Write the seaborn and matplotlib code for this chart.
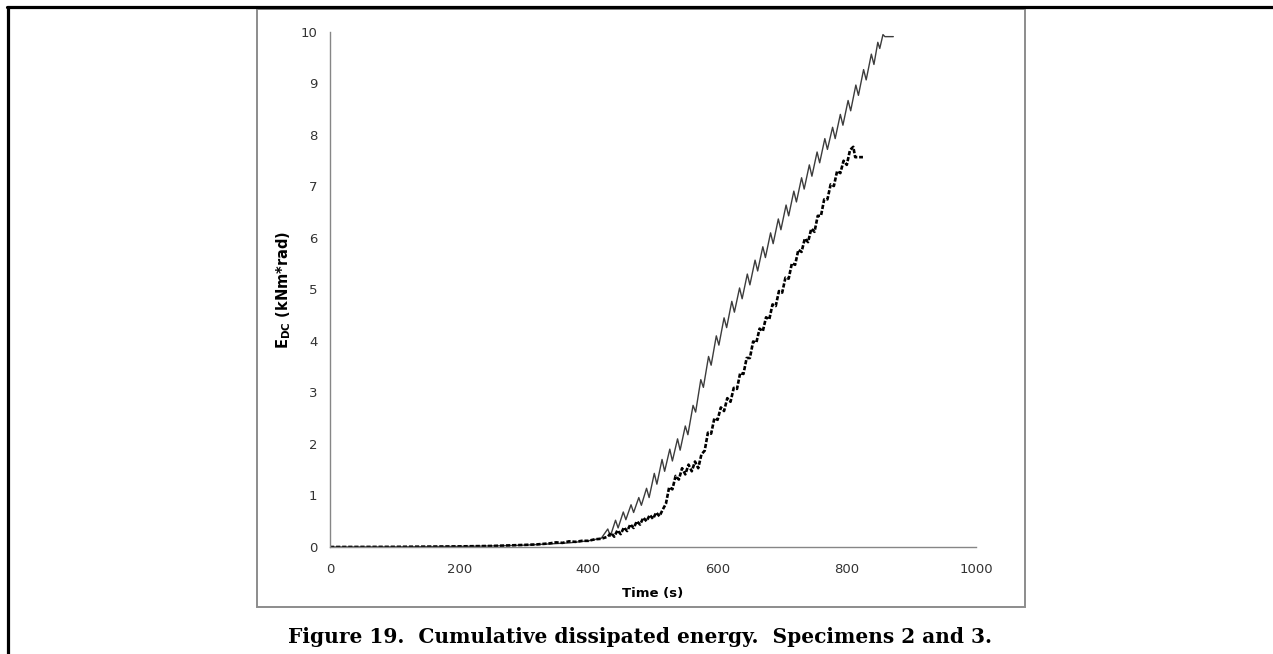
import numpy as np
import pandas as pd
import matplotlib
matplotlib.use("Agg")
import matplotlib.pyplot as plt
from matplotlib.patches import Rectangle
from matplotlib.lines import Line2D
import seaborn as sns

# Specimen 2: cumulative dissipated energy (solid line)
time_s2 = [0, 100, 200, 250, 300, 340, 370, 400, 420,
           430, 434, 442, 446, 454, 458, 466, 470, 478, 482, 490, 494,
           502, 506, 514, 518, 526, 530, 538, 542, 550, 554, 562, 566,
           574, 578, 586, 590, 598, 602, 610, 614, 622, 626, 634, 638,
           646, 650, 658, 662, 670, 674, 682, 686, 694, 698, 706, 710,
           718, 722, 730, 734, 742, 746, 754, 758, 766, 770, 778, 782,
           790, 794, 802, 806, 814, 818, 826, 830, 838, 842, 848, 851,
           856, 859, 872]
energy_s2 = [0.0, 0.003, 0.01, 0.02, 0.035, 0.06, 0.08, 0.12, 0.17,
             0.35, 0.21, 0.52, 0.37, 0.68, 0.53, 0.82, 0.67, 0.96, 0.81, 1.14, 0.96,
             1.43, 1.22, 1.70, 1.47, 1.90, 1.67, 2.10, 1.88, 2.35, 2.18, 2.75, 2.62,
             3.25, 3.10, 3.70, 3.53, 4.10, 3.92, 4.45, 4.26, 4.77, 4.56, 5.03, 4.82,
             5.30, 5.09, 5.57, 5.36, 5.83, 5.62, 6.10, 5.89, 6.37, 6.16, 6.64, 6.43,
             6.91, 6.70, 7.17, 6.95, 7.42, 7.20, 7.67, 7.46, 7.93, 7.72, 8.15, 7.93,
             8.40, 8.19, 8.67, 8.47, 8.97, 8.77, 9.27, 9.07, 9.57, 9.37, 9.80, 9.68,
             9.95, 9.91, 9.91]

# Specimen 3: cumulative dissipated energy (dashed line)
time_s3 = [0, 100, 200, 250, 300, 320, 340, 350, 360, 370, 380, 390, 400,
           410, 420, 430, 435, 440, 445, 450, 455, 460, 465, 470, 475, 480,
           485, 490, 495, 500, 505, 510, 515, 520, 525, 530, 535, 540, 545,
           550, 555, 560, 565, 570, 575, 580, 585, 590, 595, 600, 605, 610,
           615, 620, 625, 630, 635, 640, 645, 650, 655, 660, 665, 670, 675,
           680, 685, 690, 695, 700, 705, 710, 715, 720, 725, 730, 735, 740,
           745, 750, 755, 760, 765, 770, 775, 780, 785, 790, 795, 800, 805,
           810, 813, 825]
energy_s3 = [0.0, 0.003, 0.012, 0.02, 0.04, 0.05, 0.07, 0.09, 0.08, 0.11, 0.10, 0.12, 0.12,
             0.15, 0.16, 0.20, 0.275, 0.20, 0.325, 0.25, 0.38, 0.31, 0.44, 0.37, 0.50, 0.435,
             0.57, 0.50, 0.623, 0.547, 0.67, 0.597, 0.725, 0.84, 1.16, 1.12, 1.38, 1.31, 1.53,
             1.41, 1.60, 1.47, 1.66, 1.53, 1.80, 1.87, 2.22, 2.20, 2.50, 2.47, 2.71, 2.64,
             2.89, 2.82, 3.09, 3.07, 3.38, 3.36, 3.67, 3.67, 3.99, 3.97, 4.24, 4.19, 4.46,
             4.42, 4.71, 4.68, 4.97, 4.94, 5.23, 5.21, 5.51, 5.48, 5.77, 5.73, 5.99, 5.92,
             6.18, 6.12, 6.43, 6.43, 6.75, 6.75, 7.04, 7.01, 7.30, 7.26, 7.50, 7.42, 7.71,
             7.77, 7.57, 7.57]

x_ticks = [0, 200, 400, 600, 800, 1000]
y_ticks = [0, 1, 2, 3, 4, 5, 6, 7, 8, 9, 10]

x_label = "Time (s)"
y_label = r"$\mathbf{E_{DC}}$ (kNm*rad)"
caption = "Figure 19.  Cumulative dissipated energy.  Specimens 2 and 3."

sns.set_theme(style="white")
plt.rcParams["font.family"] = ["DejaVu Sans"]
plt.rcParams["mathtext.fontset"] = "dejavusans"

W, H = 1273, 654
fig = plt.figure(figsize=(W / 100, H / 100), dpi=100)
fig.patch.set_facecolor("white")


def fx(px):
    return px / W


def fy(py):
    return 1 - py / H


# page frame (black) and chart area frame (gray)
fig.add_artist(Line2D([fx(8), fx(8)], [fy(7), fy(660)], color="black", lw=2.3,
                      transform=fig.transFigure))
fig.add_artist(Line2D([fx(7), fx(1280)], [fy(7), fy(7)], color="black", lw=2.3,
                      transform=fig.transFigure))
fig.add_artist(Rectangle((fx(257), fy(607)), fx(1025) - fx(257), fy(9) - fy(607),
                         fill=False, edgecolor="#8c8c8c", lw=1.4,
                         transform=fig.transFigure))

ax = fig.add_axes([fx(330), fy(547), fx(976) - fx(330), fy(32) - fy(547)])
ax.set_facecolor("none")

df2 = pd.DataFrame({"time": time_s2, "energy": energy_s2})
df3 = pd.DataFrame({"time": time_s3, "energy": energy_s3})

sns.lineplot(data=df2, x="time", y="energy", ax=ax, color="#3c3c3c", lw=1.0,
             estimator=None, sort=False)
sns.lineplot(data=df3, x="time", y="energy", ax=ax, color="black", lw=1.9,
             linestyle=(0, (1.6, 0.7)), estimator=None, sort=False)

ax.set_xlim(0, 1000)
ax.set_ylim(0, 10)
ax.set_xticks(x_ticks)
ax.set_yticks(y_ticks)
ax.set_xticklabels([str(v) for v in x_ticks])
ax.set_yticklabels([str(v) for v in y_ticks])

for s in ["top", "right"]:
    ax.spines[s].set_visible(False)
for s in ["left", "bottom"]:
    ax.spines[s].set_color("#868686")
    ax.spines[s].set_linewidth(1.0)

ax.tick_params(axis="both", direction="out", length=4, width=1, color="#868686",
               labelcolor="#333333", labelsize=9.5)
ax.tick_params(axis="x", pad=7.5)
ax.tick_params(axis="y", pad=5)

ax.set_xlabel(x_label, fontsize=9.5, fontweight="bold", color="black")
ax.set_ylabel(y_label, fontsize=10.5, fontweight="bold", color="black")
ax.xaxis.set_label_coords(0.5, -0.077)
ax.yaxis.set_label_coords(-0.058, 0.5)

fig.text(fx(640), fy(643), caption, ha="center", va="baseline",
         family=["DejaVu Serif"], fontweight="bold",
         fontsize=14.5, color="black")

fig.savefig("out.png", dpi=100, facecolor="white")
